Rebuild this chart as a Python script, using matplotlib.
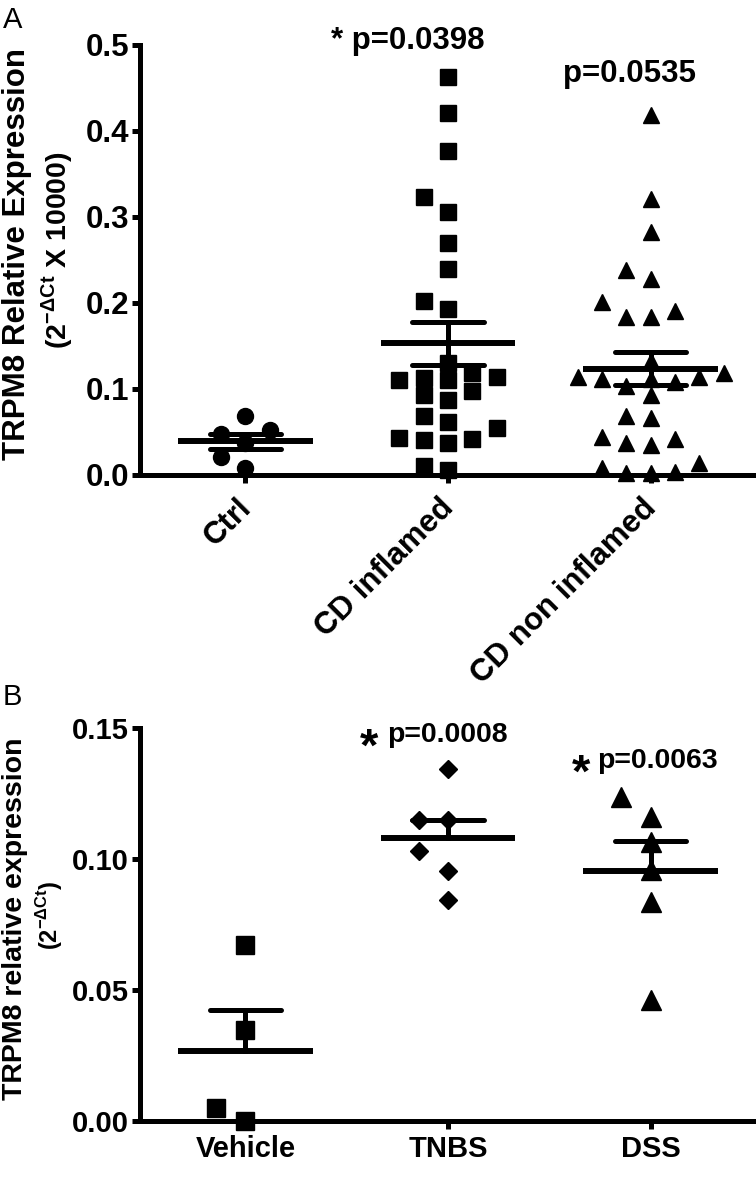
import numpy as np
import matplotlib.pyplot as plt
from matplotlib.transforms import ScaledTranslation

plt.rcParams['font.family'] = ['Liberation Sans', 'DejaVu Sans']
plt.rcParams['font.weight'] = 'bold'
plt.rcParams['mathtext.fontset'] = 'custom'
plt.rcParams['mathtext.rm'] = 'Liberation Sans'
plt.rcParams['mathtext.bf'] = 'Liberation Sans:bold'

# panel A - human biopsies
groups_a = ['Ctrl', 'CD inflamed', 'CD non inflamed']
ctrl = [0.069, 0.048, 0.052, 0.037, 0.021, 0.008]
cd_inflamed = [0.463, 0.421, 0.377, 0.323, 0.306, 0.270, 0.239, 0.202, 0.193,
               0.130, 0.118, 0.113, 0.110, 0.110, 0.114, 0.098, 0.093, 0.087,
               0.068, 0.061, 0.055, 0.043, 0.042, 0.041, 0.037, 0.010, 0.006]
cd_non_inflamed = [0.419, 0.321, 0.282, 0.238, 0.228, 0.201, 0.191, 0.184, 0.184,
                   0.132, 0.118, 0.114, 0.114, 0.112, 0.111, 0.108, 0.103, 0.093,
                   0.069, 0.066, 0.044, 0.042, 0.037, 0.035, 0.014, 0.008, 0.004,
                   0.002, 0.002]
pvals_a = ['', '* p=0.0398', 'p=0.0535']

# panel B - mouse colitis models
groups_b = ['Vehicle', 'TNBS', 'DSS']
vehicle = [0.0672, 0.0347, 0.0, 0.0048]
tnbs = [0.1342, 0.1149, 0.1149, 0.1032, 0.0955, 0.0844]
dss = [0.1238, 0.1162, 0.1066, 0.0958, 0.0837, 0.0462]
pvals_b = ['', 'p=0.0008', 'p=0.0063']


def swarm(vals, step, gap):
    # simple column scatter: put each point in the nearest free slot
    vals = np.asarray(vals)
    slots = [0, -1, 1, -2, 2, -3, 3, -4, 4]
    placed = []
    offs = np.zeros(len(vals))
    for i in np.argsort(vals, kind='stable'):
        for s in slots:
            if all(s != ps or abs(vals[i] - pv) >= gap for ps, pv in placed):
                break
        placed.append((s, vals[i]))
        offs[i] = s * step
    return offs


def style_axes(ax, ylim, yticks, fmt):
    ax.set_xlim(-0.52, 2.52)
    ax.set_ylim(*ylim)
    ax.spines['top'].set_visible(False)
    ax.spines['right'].set_visible(False)
    ax.spines['left'].set_linewidth(3.6)
    ax.spines['bottom'].set_linewidth(3.6)
    ax.set_yticks(yticks)
    ax.set_yticklabels([fmt % v for v in yticks])
    ax.tick_params(axis='both', direction='out', length=6, width=3.6, pad=2)
    ax.tick_params(axis='y', labelsize=22.5)


def draw_group(ax, i, vals, marker, ms, step, gap, both_sides):
    vals = np.asarray(vals)
    x = i + swarm(vals, step, gap)
    ax.plot(x, vals, ls='none', marker=marker, ms=ms, color='black',
            mec='black', clip_on=False, zorder=3)
    m = vals.mean()
    sem = vals.std(ddof=1) / np.sqrt(len(vals))
    ax.plot([i - 0.333, i + 0.333], [m, m], color='black', lw=4.3,
            solid_capstyle='butt', zorder=4)
    lo = m - sem if both_sides else m
    ax.plot([i, i], [lo, m + sem], color='black', lw=3.6, zorder=4)
    caps = [m - sem, m + sem] if both_sides else [m + sem]
    for c in caps:
        ax.plot([i - 0.177, i + 0.177], [c, c], color='black', lw=3.6,
                solid_capstyle='round', zorder=4)


fig = plt.figure(figsize=(7.56, 11.8), dpi=100)

# ---- A ----
axA = fig.add_axes([0.1852, 0.5975, 0.8148, 0.3644])
style_axes(axA, (0, 0.5), [0, 0.1, 0.2, 0.3, 0.4, 0.5], '%.1f')
for i, (vals, mk, ms) in enumerate(zip([ctrl, cd_inflamed, cd_non_inflamed],
                                       ['o', 's', '^'], [11.5, 11.5, 12])):
    draw_group(axA, i, vals, mk, ms, 0.12, 0.019, True)
axA.set_xticks(range(3))
axA.set_xticklabels(groups_a, rotation=45, ha='right', rotation_mode='anchor',
                    fontsize=22.5)
axA.tick_params(axis='x', pad=6)
shift = ScaledTranslation(-9 / 100, -1 / 100, fig.dpi_scale_trans)
for lab in axA.get_xticklabels():
    lab.set_transform(lab.get_transform() + shift)
axA.text(0.425, 0.495, pvals_a[1], fontsize=22.5, ha='left', va='baseline')
axA.text(1.567, 0.457, pvals_a[2], fontsize=22.5, ha='left', va='baseline')

fig.text(0.004, 1 - 28 / 1180, 'A', fontsize=21, fontweight='normal', va='baseline')
fig.text(0.0225, 0.7847, 'TRPM8 Relative Expression', rotation=90, fontsize=22.5,
         ha='center', va='center')
fig.text(0.0754, 0.788, r'(2$^{\mathrm{-ΔCt}}$ X 10000)', rotation=90,
         fontsize=20.5, ha='center', va='center')

# ---- B ----
axB = fig.add_axes([0.1852, 0.05, 0.8148, 0.3331])
style_axes(axB, (0, 0.15), [0, 0.05, 0.10, 0.15], '%.2f')
axB.tick_params(axis='y', labelsize=21)
for i, (vals, mk, ms) in enumerate(zip([vehicle, tnbs, dss],
                                       ['s', 'D', '^'], [13.5, 9.5, 14])):
    draw_group(axB, i, vals, mk, ms, 0.145, 0.0085, False)
axB.set_xticks(range(3))
axB.set_xticklabels(groups_b, fontsize=21)
axB.tick_params(axis='x', pad=4)
axB.text(0.701, 0.1447, pvals_b[1], fontsize=20.5, ha='left', va='baseline')
axB.text(1.738, 0.1347, pvals_b[2], fontsize=20.5, ha='left', va='baseline')
axB.text(0.61, 0.1375, '*', fontsize=34, ha='center', va='baseline')
axB.text(1.657, 0.1275, '*', fontsize=34, ha='center', va='baseline')

fig.text(0.003, 1 - 705 / 1180, 'B', fontsize=21, fontweight='normal', va='baseline')
fig.text(0.0198, 0.2212, 'TRPM8 relative expression', rotation=90, fontsize=20.5,
         ha='center', va='center')
fig.text(0.0661, 0.2246, r'(2$^{\mathrm{-ΔCt}}$)', rotation=90, fontsize=17,
         ha='center', va='center')

fig.savefig('out.png', dpi=100)
